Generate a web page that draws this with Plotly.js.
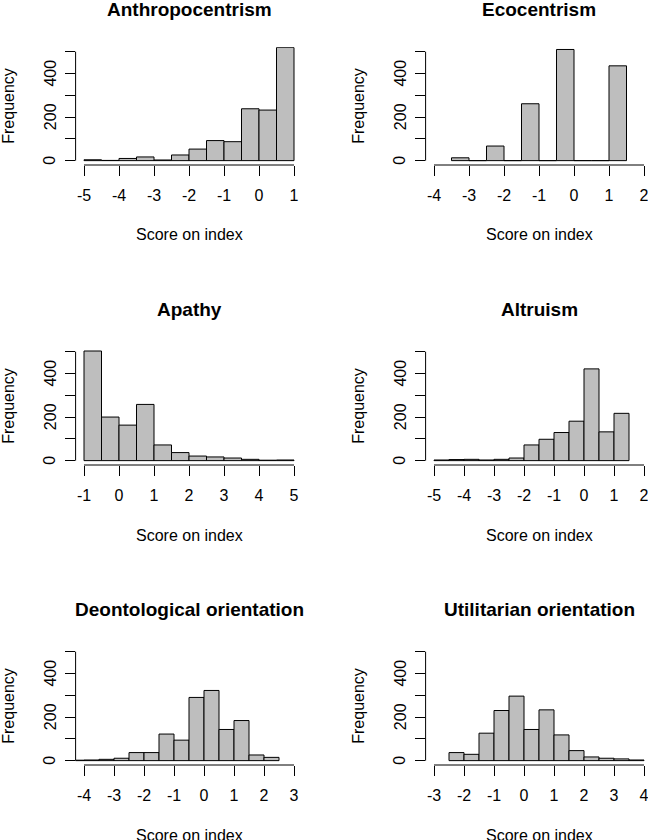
<!DOCTYPE html>
<html><head><meta charset="utf-8">
<script src="https://cdn.plot.ly/plotly-3.0.1.min.js"></script>
<style>html,body{margin:0;padding:0;background:#fff}</style>
</head><body><div id="chart" style="width:648px;height:840px"></div>
<script>
// ---- data ----
const panelTitles = ["Anthropocentrism", "Ecocentrism", "Apathy", "Altruism",
  "Deontological orientation", "Utilitarian orientation"];
const binWidth = 0.5;
const anthropocentrismStart = -5;
const anthropocentrismCounts = [4, 1, 10, 17, 3, 26, 53, 92, 87, 238, 232, 519];
const ecocentrismStart = -3.5;
const ecocentrismCounts = [13, 0, 67, 0, 261, 0, 510, 0, 0, 435];
const apathyStart = -1;
const apathyCounts = [503, 200, 163, 258, 72, 37, 21, 17, 12, 6, 2, 3];
const altruismStart = -5;
const altruismCounts = [3, 5, 6, 3, 6, 12, 72, 98, 129, 181, 421, 132, 217];
const deontologicalStart = -4.5;
const deontologicalCounts = [2, 3, 6, 11, 37, 37, 122, 94, 290, 322, 143, 184, 26, 15];
const utilitarianStart = -2.5;
const utilitarianCounts = [37, 29, 126, 230, 296, 143, 233, 118, 46, 17, 11, 8, 3];

const anthropocentrismTicks = [-5, -4, -3, -2, -1, 0, 1];
const ecocentrismTicks = [-4, -3, -2, -1, 0, 1, 2];
const apathyTicks = [-1, 0, 1, 2, 3, 4, 5];
const altruismTicks = [-5, -4, -3, -2, -1, 0, 1, 2];
const deontologicalTicks = [-4, -3, -2, -1, 0, 1, 2, 3];
const utilitarianTicks = [-3, -2, -1, 0, 1, 2, 3, 4];
const frequencyTicks = [0, 100, 200, 300, 400, 500];
const frequencyLabels = ["0", "", "200", "", "400", ""];
const xLabel = "Score on index";
const yLabel = "Frequency";

const starts = [anthropocentrismStart, ecocentrismStart, apathyStart, altruismStart, deontologicalStart, utilitarianStart];
const counts = [anthropocentrismCounts, ecocentrismCounts, apathyCounts, altruismCounts, deontologicalCounts, utilitarianCounts];
const ticks = [anthropocentrismTicks, ecocentrismTicks, apathyTicks, altruismTicks, deontologicalTicks, utilitarianTicks];

// ---- layout geometry (pixels) ----
const W = 648, H = 840;
const FONT = "Liberation Sans, Arial, sans-serif";
const plotW = 226.8, plotH = 117.7;
const left0 = 75.6, top0 = 47.3, colStep = 350, rowStep = 300;

const traces = [];
const layout = {
  width: W, height: H,
  margin: {l: 0, r: 0, t: 0, b: 0},
  paper_bgcolor: "#ffffff", plot_bgcolor: "rgba(0,0,0,0)",
  showlegend: false,
  font: {family: FONT, size: 16, color: "#000"},
  shapes: [], annotations: []
};

for (let i = 0; i < 6; i++) {
  const r = Math.floor(i / 2), c = i % 2;
  const sfx = i === 0 ? "" : String(i + 1);
  const xa = "x" + sfx, ya = "y" + sfx;
  const left = left0 + c * colStep, top = top0 + r * rowStep;
  const right = left + plotW, bottom = top + plotH;
  const rightClip = Math.min(right, W);
  const t = ticks[i];
  const t0 = t[0], t1 = t[t.length - 1], span = t1 - t0;
  const lo = t0 - 0.04 * span;
  let hi = t1 + 0.04 * span;
  hi = lo + (hi - lo) * (rightClip - left) / plotW;

  const centers = counts[i].map((_, k) => starts[i] + (k + 0.5) * binWidth);
  traces.push({
    type: "bar", x: centers, y: counts[i], width: binWidth,
    xaxis: xa, yaxis: ya,
    marker: {color: "#bebebe", line: {color: "#000", width: 1}},
    hoverinfo: "skip"
  });

  layout["xaxis" + sfx] = {
    domain: [left / W, rightClip / W], range: [lo, hi], anchor: ya,
    tickmode: "array", tickvals: t, ticktext: t.map(v => String(v)),
    ticks: "outside", ticklen: 10, tickwidth: 1, tickcolor: "#000",
    ticklabelstandoff: 6, ticklabeloverflow: "allow",
    showline: false, showgrid: false, zeroline: false,
    tickfont: {family: FONT, size: 16, color: "#000"}, fixedrange: true
  };
  layout["yaxis" + sfx] = {
    domain: [1 - bottom / H, 1 - top / H], range: [-20, 520], anchor: xa,
    tickmode: "array", tickvals: frequencyTicks, showticklabels: false,
    ticks: "outside", ticklen: 10, tickwidth: 1, tickcolor: "#000",
    showline: false, showgrid: false, zeroline: false, fixedrange: true
  };

  layout.shapes.push({type: "line", xref: xa, yref: ya + " domain",
    x0: t0, x1: t1, y0: 0, y1: 0, line: {color: "#000", width: 1}});
  layout.shapes.push({type: "line", xref: xa + " domain", yref: ya,
    x0: 0, x1: 0, y0: frequencyTicks[0], y1: frequencyTicks[frequencyTicks.length - 1],
    line: {color: "#000", width: 1}});

  // y tick labels (R style: parallel to axis, every other tick)
  frequencyTicks.forEach((v, k) => {
    if (!frequencyLabels[k]) return;
    layout.annotations.push({text: frequencyLabels[k], xref: xa + " domain", yref: ya,
      x: 0, y: v, xanchor: "center", yanchor: "middle", xshift: -25.5, textangle: -90,
      showarrow: false, font: {family: FONT, size: 16, color: "#000"}});
  });

  const midX = ((left + right) / 2 - left) / (rightClip - left);
  layout.annotations.push({text: "<b>" + panelTitles[i] + "</b>", xref: xa + " domain", yref: ya + " domain",
    x: midX, y: 1, xanchor: "center", yanchor: "middle", yshift: 37.5, showarrow: false,
    font: {family: FONT, size: 19, color: "#000"}});
  layout.annotations.push({text: xLabel, xref: xa + " domain", yref: ya + " domain",
    x: midX, y: 0, xanchor: "center", yanchor: "middle", yshift: -70, showarrow: false,
    font: {family: FONT, size: 16, color: "#000"}});
  layout.annotations.push({text: yLabel, xref: xa + " domain", yref: ya + " domain",
    x: 0, y: 0.5, xanchor: "center", yanchor: "middle", xshift: -67, textangle: -90, showarrow: false,
    font: {family: FONT, size: 16, color: "#000"}});
}

Plotly.newPlot("chart", traces, layout, {displayModeBar: false, staticPlot: true});
</script></body></html>
